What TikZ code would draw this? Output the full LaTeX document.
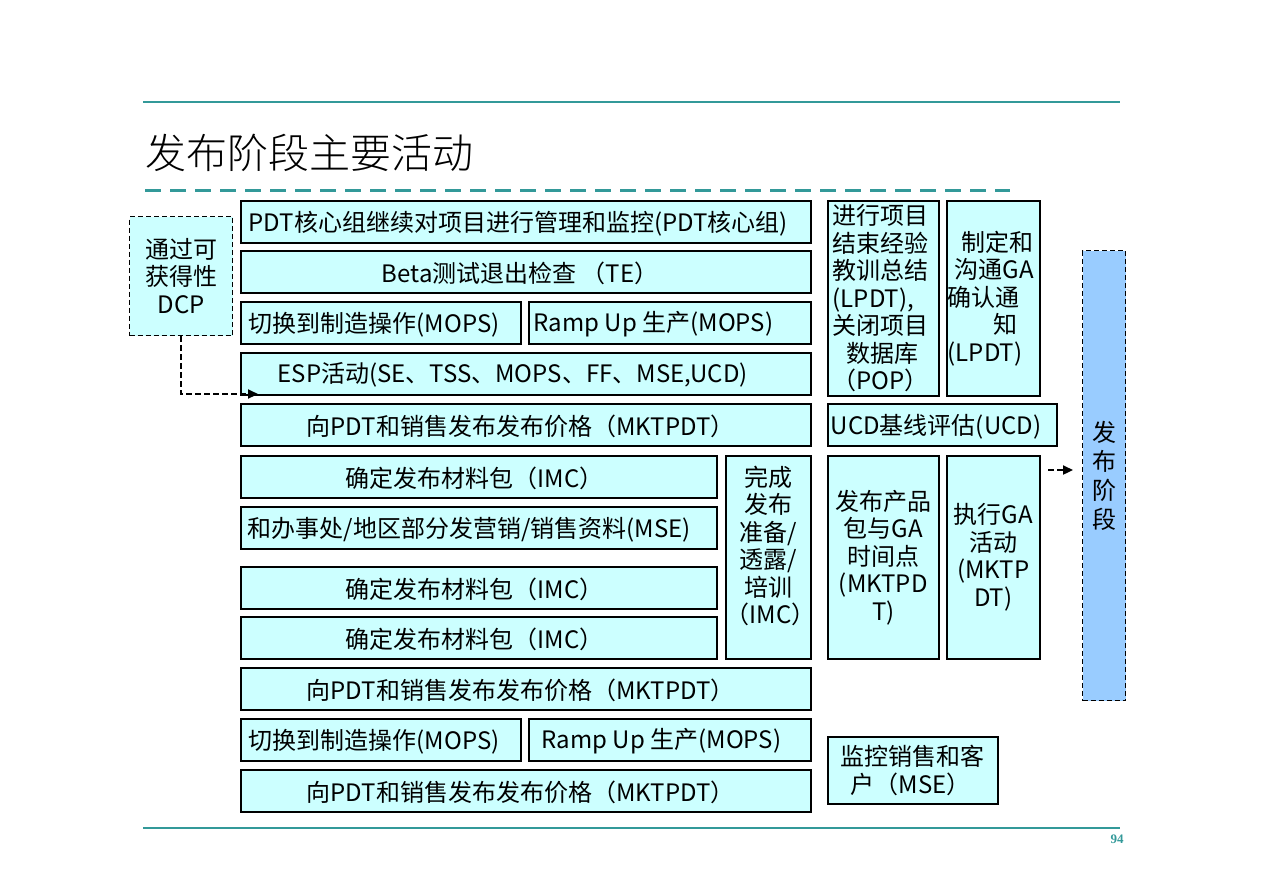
\documentclass[tikz,border=0pt]{standalone}
\usepackage{fontspec}
\setmainfont{Noto Sans CJK SC}
\newfontfamily\titlefont{Noto Sans CJK SC}[UprightFont={* Light}]
\newfontfamily\numfont{Liberation Serif}
\usetikzlibrary{arrows.meta}
\definecolor{boxfill}{RGB}{204,255,255}
\definecolor{phasefill}{RGB}{153,204,255}
\definecolor{tealc}{RGB}{51,153,153}
\newcommand\fsz[1]{\fontsize{#1}{27.5}\selectfont}
\newcommand\onel[4]{\parbox[c][#2pt][c]{#1pt}{\vspace*{3pt}\raggedright\hspace*{#3pt}#4}}
\tikzset{
  actbox/.style={draw=black, line width=1.5pt, fill=boxfill, anchor=north west, inner sep=0pt, font=\fsz{24}},
  dashbox/.style={draw=black, line width=1.2pt, dash pattern=on 5pt off 3pt, anchor=north west, inner sep=0pt, font=\fsz{24}},
  flow/.style={line width=2.2pt, dash pattern=on 6pt off 3pt, -{Triangle[length=10pt,width=9pt]}},
  rulel/.style={draw=tealc, line width=1.2pt},
}
\begin{document}
\begin{tikzpicture}[x=1pt,y=-1pt]
\useasboundingbox (0,0) rectangle (1263,892);
% header / footer
\draw[rulel] (143,102) -- (1120,102);
\draw[rulel] (143,828) -- (1120,828);
\draw[draw=tealc, line width=3pt, dash pattern=on 16pt off 9pt] (145,190) -- (1010,190);
\node[anchor=west, inner sep=0pt, font=\titlefont\fontsize{41}{41}\selectfont] (title) at (145,153) {发布阶段主要活动};
\node[inner sep=0pt, text=tealc, font=\numfont\bfseries\fontsize{13}{13}\selectfont] (pnum) at (1117,839) {94};
% main column
\node[actbox] (pdtcore) at (240,200) {\onel{570}{42}{8}{PDT核心组继续对项目进行管理和监控(PDT核心组)}};
\node[actbox] (beta) at (240,250) {\onel{570}{42}{141}{Beta测试退出检查 （TE）}};
\node[actbox] (mops1) at (240,301) {\onel{280}{42}{8}{切换到制造操作(MOPS)}};
\node[actbox] (ramp1) at (528,301) {\onel{282}{42}{5}{Ramp Up 生产(MOPS)}};
\node[actbox] (esp) at (240,352) {\onel{570}{42}{37}{ESP活动(SE、TSS、MOPS、FF、MSE,UCD)}};
\node[actbox] (price1) at (240,403) {\onel{570}{42}{66}{向PDT和销售发布发布价格（MKTPDT）}};
\node[actbox] (imc1) at (240,455) {\onel{476}{42}{105}{确定发布材料包（IMC）}};
\node[actbox] (mse) at (240,506) {\onel{476}{42}{7}{和办事处/地区部分发营销/销售资料(MSE)}};
\node[actbox] (imc2) at (240,566) {\onel{476}{42}{105}{确定发布材料包（IMC）}};
\node[actbox] (imc3) at (240,616) {\onel{476}{42}{105}{确定发布材料包（IMC）}};
\node[actbox] (price2) at (240,667) {\onel{570}{42}{66}{向PDT和销售发布发布价格（MKTPDT）}};
\node[actbox] (mops2) at (240,718) {\onel{280}{42}{8}{切换到制造操作(MOPS)}};
\node[actbox] (ramp2) at (528,718) {\onel{282}{42}{13}{Ramp Up 生产(MOPS)}};
\node[actbox] (price3) at (240,769) {\onel{570}{42}{66}{向PDT和销售发布发布价格（MKTPDT）}};
\node[actbox] (prep) at (725,455) {\parbox[c][203pt][t]{85pt}{\vspace*{10pt}\centering 完成\\发布\\准备/\\透露/\\培训\\（IMC）}};
% right column
\node[actbox] (lessons) at (827,200) {\parbox[c][195pt][c]{111pt}{\raggedright\leftskip=5pt 进行项目\\结束经验\\教训总结\\(LPDT),\\关闭项目\\\hspace*{14pt}数据库\\（POP）}};
\node[actbox] (ganotice) at (946,200) {\parbox[c][195pt][c]{93pt}{\raggedright\leftskip=1pt \hspace*{14pt}制定和\\\hspace*{7pt}沟通GA\\确认通\\\hspace*{46pt}知\\(LPDT)}};
\node[actbox] (ucd) at (827,403) {\onel{229}{42}{3}{UCD基线评估(UCD)}};
\node[actbox] (pkg) at (827,455) {\parbox[c][203pt][c]{111pt}{\centering 发布产品\\包与GA\\时间点\\(MKTPD\\T)}};
\node[actbox] (gaact) at (946,455) {\parbox[c][203pt][c]{93pt}{\centering 执行GA\\活动\\(MKTP\\DT)}};
\node[actbox] (monitor) at (827,736) {\parbox[c][67pt][c]{170pt}{\raggedright\leftskip=13pt 监控销售和客\\\hspace*{10pt}户（MSE）}};
% DCP and phase
\node[dashbox, fill=boxfill] (dcp) at (129,216) {\parbox[c][119pt][c]{103pt}{\centering 通过可\\获得性\\DCP}};
\node[dashbox, fill=phasefill] (phase) at (1082,250) {\parbox[c][450pt][c]{43pt}{\fontsize{24}{29}\selectfont\centering 发\\布\\阶\\段}};
% connectors
\coordinate (espin) at (258,394);
\draw[flow] (dcp.south) |- (espin);
\coordinate (gaout) at (1048,470);
\draw[flow, shorten >=9pt] (gaout) -- (gaout -| phase.west);
\end{tikzpicture}
\end{document}
